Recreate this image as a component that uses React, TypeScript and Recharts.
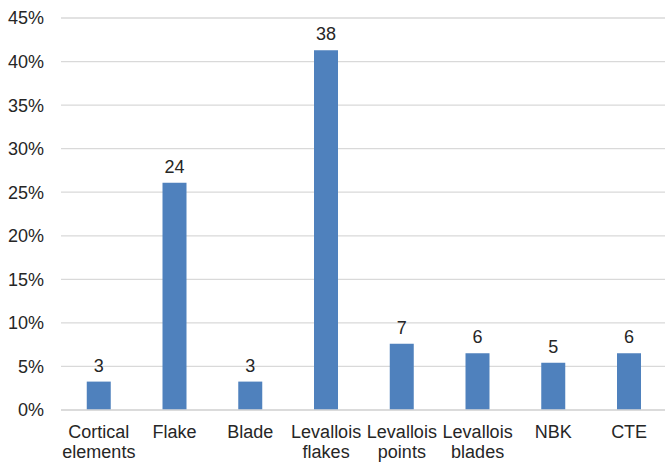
import { BarChart, Bar, XAxis, YAxis, CartesianGrid, LabelList } from 'recharts'

const CATEGORIES = [
  'Cortical elements',
  'Flake',
  'Blade',
  'Levallois flakes',
  'Levallois points',
  'Levallois blades',
  'NBK',
  'CTE',
]
const COUNTS = [3, 24, 3, 38, 7, 6, 5, 6]
const Y_TICKS = [0, 5, 10, 15, 20, 25, 30, 35, 40, 45]

const TOTAL = COUNTS.reduce((s, v) => s + v, 0)

const data = CATEGORIES.map((name, i) => ({
  name,
  count: COUNTS[i],
  pct: (COUNTS[i] / TOTAL) * 100,
}))

const FONT = '"Liberation Sans", Arial, sans-serif'
const TEXT = '#262626'
const SIZE = 18

// one word per line, centred under the bar
const CategoryTick = ({ x, y, payload }: any) => {
  const words = String(payload.value).split(' ')
  return (
    <text x={x} y={y} textAnchor="middle" fill={TEXT} fontSize={SIZE} fontFamily={FONT}>
      {words.map((w, i) => (
        <tspan key={i} x={x} dy={i === 0 ? 26 : 20}>{w}</tspan>
      ))}
    </text>
  )
}

export default function App() {
  return (
    <div style={{ position: 'absolute', left: 0, top: 0, width: 665, height: 463, overflow: 'hidden', background: '#fff' }}>
      <BarChart
        width={667}
        height={463}
        data={data}
        margin={{ top: 18, right: 0, bottom: 0, left: 0 }}
        barCategoryGap="34%"
      >
        <CartesianGrid vertical={false} stroke="#d9d9d9" strokeWidth={1.3} />
        <XAxis
          dataKey="name"
          interval={0}
          height={53}
          axisLine={{ stroke: '#d9d9d9', strokeWidth: 1.3 }}
          tickLine={false}
          tickSize={0}
          tick={<CategoryTick />}
        />
        <YAxis
          type="number"
          domain={[0, 45]}
          ticks={Y_TICKS}
          width={61}
          axisLine={false}
          tickLine={false}
          tickSize={0}
          tickMargin={17}
          tickFormatter={(v: number) => `${v}%`}
          tick={{ fontSize: SIZE, fill: TEXT, fontFamily: FONT }}
        />
        <Bar dataKey="pct" fill="#4f81bd" isAnimationActive={false}>
          <LabelList
            dataKey="count"
            position="top"
            offset={10}
            fill={TEXT}
            fontSize={SIZE}
            fontFamily={FONT}
          />
        </Bar>
      </BarChart>
    </div>
  )
}
